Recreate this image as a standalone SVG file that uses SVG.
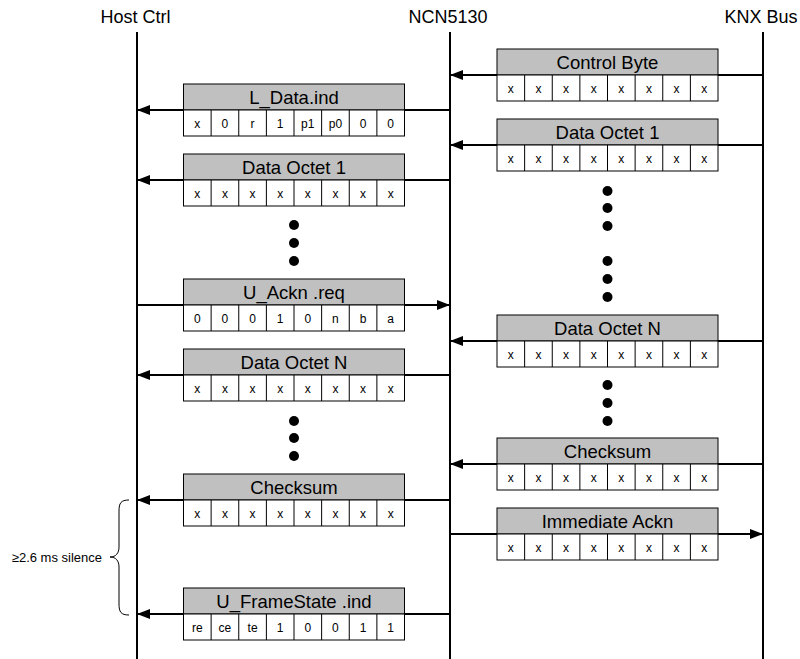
<svg xmlns="http://www.w3.org/2000/svg" width="800" height="659" viewBox="0 0 800 659">
<style>
text{font-family:"Liberation Sans",Arial,Helvetica,sans-serif;fill:#000}
.title{font-size:18px;text-anchor:middle}
.hd{font-size:18.5px;text-anchor:middle}
.c{font-size:12px;text-anchor:middle}
.hdr{fill:#c0c0c0;stroke:#000;stroke-width:1}
.cell{fill:#fff;stroke:#000;stroke-width:1}
.life{stroke:#000;stroke-width:2;fill:none}
.arr{stroke:#000;stroke-width:2;fill:none;marker-end:url(#ah)}
.dot{fill:#000}
.brace{fill:none;stroke:#000;stroke-width:1}
.lbl{font-size:13px;text-anchor:end}
</style>
<defs>
<marker id="ah" markerUnits="userSpaceOnUse" markerWidth="13" markerHeight="10" refX="13" refY="5" orient="auto">
<path d="M0,0 L13,5 L0,10 z" fill="#000"/>
</marker>
<g id="row8">
<rect class="cell" x="0" y="0" width="221" height="26"/>
<path d="M27.625,0v26M55.25,0v26M82.875,0v26M110.5,0v26M138.125,0v26M165.75,0v26M193.375,0v26" stroke="#000" stroke-width="1"/>
</g>
</defs>

<g id="lifelines">
<text class="title" x="135.5" y="23">Host Ctrl</text>
<text class="title" x="448" y="23">NCN5130</text>
<text class="title" x="761" y="23">KNX Bus</text>
<line class="life" x1="137" y1="32" x2="137" y2="659"/>
<line class="life" x1="450" y1="32" x2="450" y2="659"/>
<line class="life" x1="763" y1="32" x2="763" y2="659"/>
</g>

<g id="connectors">
<line class="arr" x1="450" y1="110" x2="137" y2="110"/>
<line class="arr" x1="450" y1="180" x2="137" y2="180"/>
<line class="arr" x1="137" y1="305" x2="450" y2="305"/>
<line class="arr" x1="450" y1="375" x2="137" y2="375"/>
<line class="arr" x1="450" y1="500" x2="137" y2="500"/>
<line class="arr" x1="450" y1="614" x2="137" y2="614"/>
<line class="arr" x1="763" y1="75" x2="450" y2="75"/>
<line class="arr" x1="763" y1="145" x2="450" y2="145"/>
<line class="arr" x1="763" y1="341" x2="450" y2="341"/>
<line class="arr" x1="763" y1="464" x2="450" y2="464"/>
<line class="arr" x1="450" y1="534" x2="763" y2="534"/>
</g>

<g id="l-ldata">
<rect class="hdr" x="183.5" y="84" width="221" height="26"/>
<text class="hd" x="294" y="103.5">L_Data.ind</text>
<use href="#row8" x="183.5" y="110"/>
<text class="c" x="197.3" y="127.5">x</text><text class="c" x="224.9" y="127.5">0</text><text class="c" x="252.6" y="127.5">r</text><text class="c" x="280.2" y="127.5">1</text><text class="c" x="307.8" y="127.5">p1</text><text class="c" x="335.4" y="127.5">p0</text><text class="c" x="363.1" y="127.5">0</text><text class="c" x="390.7" y="127.5">0</text>
</g>

<g id="l-octet1">
<rect class="hdr" x="183.5" y="154" width="221" height="26"/>
<text class="hd" x="294" y="173.5">Data Octet 1</text>
<use href="#row8" x="183.5" y="180"/>
<text class="c" x="197.3" y="197.5">x</text><text class="c" x="224.9" y="197.5">x</text><text class="c" x="252.6" y="197.5">x</text><text class="c" x="280.2" y="197.5">x</text><text class="c" x="307.8" y="197.5">x</text><text class="c" x="335.4" y="197.5">x</text><text class="c" x="363.1" y="197.5">x</text><text class="c" x="390.7" y="197.5">x</text>
</g>

<g id="l-dots1">
<circle class="dot" cx="294" cy="225" r="5"/><circle class="dot" cx="294" cy="243" r="5"/><circle class="dot" cx="294" cy="261" r="5"/>
</g>

<g id="l-ackn">
<rect class="hdr" x="183.5" y="279" width="221" height="26"/>
<text class="hd" x="294" y="298.5">U_Ackn .req</text>
<use href="#row8" x="183.5" y="305"/>
<text class="c" x="197.3" y="322.5">0</text><text class="c" x="224.9" y="322.5">0</text><text class="c" x="252.6" y="322.5">0</text><text class="c" x="280.2" y="322.5">1</text><text class="c" x="307.8" y="322.5">0</text><text class="c" x="335.4" y="322.5">n</text><text class="c" x="363.1" y="322.5">b</text><text class="c" x="390.7" y="322.5">a</text>
</g>

<g id="l-octetN">
<rect class="hdr" x="183.5" y="349" width="221" height="26"/>
<text class="hd" x="294" y="368.5">Data Octet N</text>
<use href="#row8" x="183.5" y="375"/>
<text class="c" x="197.3" y="392.5">x</text><text class="c" x="224.9" y="392.5">x</text><text class="c" x="252.6" y="392.5">x</text><text class="c" x="280.2" y="392.5">x</text><text class="c" x="307.8" y="392.5">x</text><text class="c" x="335.4" y="392.5">x</text><text class="c" x="363.1" y="392.5">x</text><text class="c" x="390.7" y="392.5">x</text>
</g>

<g id="l-dots2">
<circle class="dot" cx="294" cy="421" r="5"/><circle class="dot" cx="294" cy="438" r="5"/><circle class="dot" cx="294" cy="456" r="5"/>
</g>

<g id="l-checksum">
<rect class="hdr" x="183.5" y="474" width="221" height="26"/>
<text class="hd" x="294" y="493.5">Checksum</text>
<use href="#row8" x="183.5" y="500"/>
<text class="c" x="197.3" y="517.5">x</text><text class="c" x="224.9" y="517.5">x</text><text class="c" x="252.6" y="517.5">x</text><text class="c" x="280.2" y="517.5">x</text><text class="c" x="307.8" y="517.5">x</text><text class="c" x="335.4" y="517.5">x</text><text class="c" x="363.1" y="517.5">x</text><text class="c" x="390.7" y="517.5">x</text>
</g>

<g id="l-framestate">
<rect class="hdr" x="183.5" y="588" width="221" height="26"/>
<text class="hd" x="294" y="607.5">U_FrameState .ind</text>
<use href="#row8" x="183.5" y="614"/>
<text class="c" x="197.3" y="631.5">re</text><text class="c" x="224.9" y="631.5">ce</text><text class="c" x="252.6" y="631.5">te</text><text class="c" x="280.2" y="631.5">1</text><text class="c" x="307.8" y="631.5">0</text><text class="c" x="335.4" y="631.5">0</text><text class="c" x="363.1" y="631.5">1</text><text class="c" x="390.7" y="631.5">1</text>
</g>

<g id="r-control">
<rect class="hdr" x="497" y="49" width="221" height="26"/>
<text class="hd" x="607.5" y="68.5">Control Byte</text>
<use href="#row8" x="497" y="75"/>
<text class="c" x="510.8" y="92.5">x</text><text class="c" x="538.4" y="92.5">x</text><text class="c" x="566.1" y="92.5">x</text><text class="c" x="593.7" y="92.5">x</text><text class="c" x="621.3" y="92.5">x</text><text class="c" x="648.9" y="92.5">x</text><text class="c" x="676.6" y="92.5">x</text><text class="c" x="704.2" y="92.5">x</text>
</g>

<g id="r-octet1">
<rect class="hdr" x="497" y="119" width="221" height="26"/>
<text class="hd" x="607.5" y="138.5">Data Octet 1</text>
<use href="#row8" x="497" y="145"/>
<text class="c" x="510.8" y="162.5">x</text><text class="c" x="538.4" y="162.5">x</text><text class="c" x="566.1" y="162.5">x</text><text class="c" x="593.7" y="162.5">x</text><text class="c" x="621.3" y="162.5">x</text><text class="c" x="648.9" y="162.5">x</text><text class="c" x="676.6" y="162.5">x</text><text class="c" x="704.2" y="162.5">x</text>
</g>

<g id="r-dots1">
<circle class="dot" cx="607.5" cy="191" r="5"/><circle class="dot" cx="607.5" cy="208" r="5"/><circle class="dot" cx="607.5" cy="226" r="5"/>
<circle class="dot" cx="607.5" cy="261" r="5"/><circle class="dot" cx="607.5" cy="279" r="5"/><circle class="dot" cx="607.5" cy="297" r="5"/>
</g>

<g id="r-octetN">
<rect class="hdr" x="497" y="315" width="221" height="26"/>
<text class="hd" x="607.5" y="334.5">Data Octet N</text>
<use href="#row8" x="497" y="341"/>
<text class="c" x="510.8" y="358.5">x</text><text class="c" x="538.4" y="358.5">x</text><text class="c" x="566.1" y="358.5">x</text><text class="c" x="593.7" y="358.5">x</text><text class="c" x="621.3" y="358.5">x</text><text class="c" x="648.9" y="358.5">x</text><text class="c" x="676.6" y="358.5">x</text><text class="c" x="704.2" y="358.5">x</text>
</g>

<g id="r-dots2">
<circle class="dot" cx="607.5" cy="385" r="5"/><circle class="dot" cx="607.5" cy="403" r="5"/><circle class="dot" cx="607.5" cy="421" r="5"/>
</g>

<g id="r-checksum">
<rect class="hdr" x="497" y="438" width="221" height="26"/>
<text class="hd" x="607.5" y="457.5">Checksum</text>
<use href="#row8" x="497" y="464"/>
<text class="c" x="510.8" y="481.5">x</text><text class="c" x="538.4" y="481.5">x</text><text class="c" x="566.1" y="481.5">x</text><text class="c" x="593.7" y="481.5">x</text><text class="c" x="621.3" y="481.5">x</text><text class="c" x="648.9" y="481.5">x</text><text class="c" x="676.6" y="481.5">x</text><text class="c" x="704.2" y="481.5">x</text>
</g>

<g id="r-immack">
<rect class="hdr" x="497" y="508" width="221" height="26"/>
<text class="hd" x="607.5" y="527.5">Immediate Ackn</text>
<use href="#row8" x="497" y="534"/>
<text class="c" x="510.8" y="551.5">x</text><text class="c" x="538.4" y="551.5">x</text><text class="c" x="566.1" y="551.5">x</text><text class="c" x="593.7" y="551.5">x</text><text class="c" x="621.3" y="551.5">x</text><text class="c" x="648.9" y="551.5">x</text><text class="c" x="676.6" y="551.5">x</text><text class="c" x="704.2" y="551.5">x</text>
</g>

<g id="silence">
<path class="brace" d="M129,500 C121,500 119,503 119,511 L119,547 C119,553 116,557 110,557 C116,557 119,561 119,567 L119,604 C119,612 121,615 129,615"/>
<text class="lbl" x="102" y="561.5">≥2.6 ms silence</text>
</g>
</svg>
